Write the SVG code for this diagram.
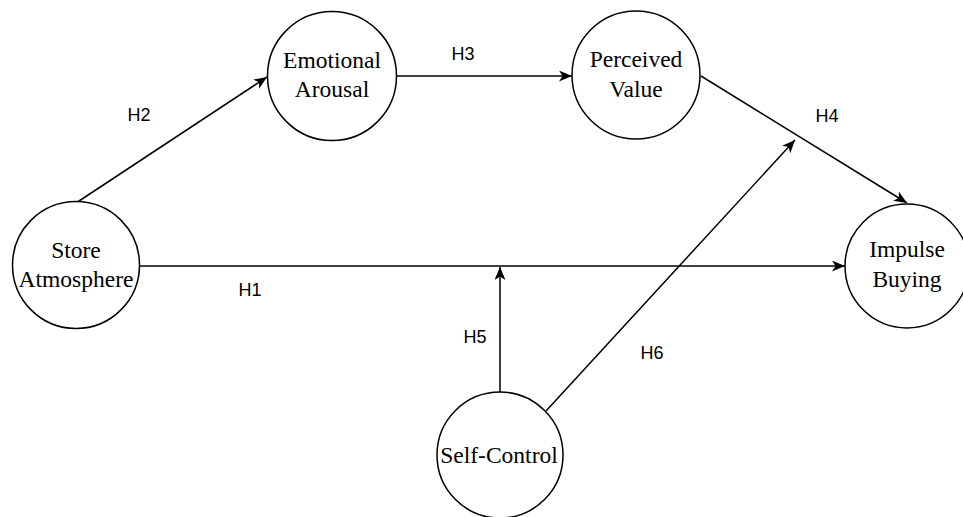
<svg xmlns="http://www.w3.org/2000/svg" width="963" height="517" viewBox="0 0 963 517">
<style>
.node{fill:#fff;stroke:#000;stroke-width:1.5}
.lbl{font-family:"Liberation Serif","Times New Roman",serif;font-size:23.5px;fill:#000;text-anchor:middle}
.edge{stroke:#000;stroke-width:1.5;fill:none;marker-end:url(#arr)}
.h{font-family:"Liberation Sans",Arial,Helvetica,sans-serif;font-size:18px;fill:#000;text-anchor:middle}
</style>
<defs>
<marker id="arr" viewBox="0 0 13 11" refX="13" refY="5.5" markerWidth="13" markerHeight="11" markerUnits="userSpaceOnUse" orient="auto">
<path d="M0,0 L13,5.5 L0,11 L3.5,5.5 z" fill="#000"/>
</marker>
</defs>
<rect width="963" height="517" fill="#fff"/>
<g id="connectors">
<line class="edge" x1="139" y1="266" x2="845" y2="266"/>
<line class="edge" x1="76" y1="203" x2="267" y2="77"/>
<line class="edge" x1="397" y1="76" x2="572" y2="76"/>
<line class="edge" x1="701" y1="76" x2="907" y2="203"/>
<line class="edge" x1="500" y1="393" x2="500" y2="267"/>
<line class="edge" x1="546" y1="411" x2="795" y2="140"/>
<text class="h" x="139" y="121">H2</text>
<text class="h" x="463" y="60">H3</text>
<text class="h" x="827" y="122">H4</text>
<text class="h" x="250" y="296">H1</text>
<text class="h" x="475" y="343">H5</text>
<text class="h" x="652" y="359">H6</text>
</g>
<g id="store-atmosphere">
<circle class="node" cx="76" cy="265" r="63.5"/>
<text class="lbl" x="76" y="258">Store</text>
<text class="lbl" x="76" y="287">Atmosphere</text>
</g>
<g id="emotional-arousal">
<circle class="node" cx="332" cy="76" r="64.5"/>
<text class="lbl" x="332" y="68">Emotional</text>
<text class="lbl" x="332" y="97">Arousal</text>
</g>
<g id="perceived-value">
<circle class="node" cx="636" cy="75" r="64"/>
<text class="lbl" x="636" y="67">Perceived</text>
<text class="lbl" x="636" y="97">Value</text>
</g>
<g id="impulse-buying">
<circle class="node" cx="907" cy="266" r="62"/>
<text class="lbl" x="907" y="257">Impulse</text>
<text class="lbl" x="907" y="287">Buying</text>
</g>
<g id="self-control">
<circle class="node" cx="500" cy="455" r="63"/>
<text class="lbl" x="499" y="463">Self-Control</text>
</g>
</svg>
